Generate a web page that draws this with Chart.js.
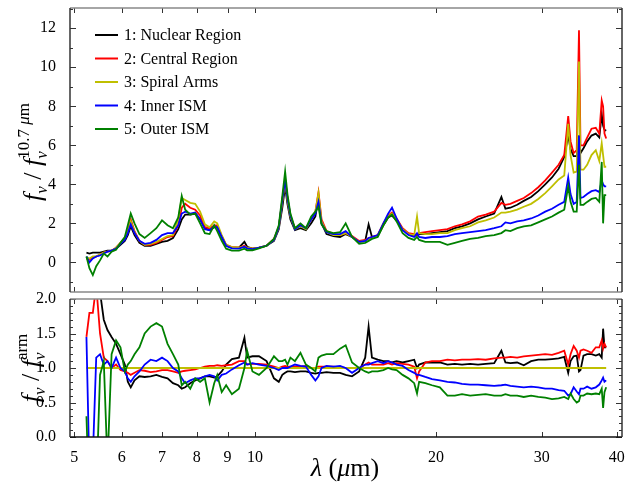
<!DOCTYPE html>
<html>
<head>
<meta charset="utf-8">
<script src="https://cdn.jsdelivr.net/npm/chart.js@4.4.1/dist/chart.umd.min.js"></script>
<style>
  html, body { margin: 0; padding: 0; background: #fff; }
  #wrap { position: relative; width: 638px; height: 484px; }
  #wrap canvas { position: absolute; left: 0; }
  #top { top: 0; }
  #bot { top: 280px; }
</style>
</head>
<body>
<div id="wrap">
  <canvas id="top" width="638" height="295"></canvas>
  <canvas id="bot" width="638" height="204"></canvas>
</div>
<script>
// wavelength grid (micron)
const wavelength = [
  5.24, 5.30, 5.37, 5.44, 5.52, 5.60, 5.68, 5.77, 5.87, 5.97,
  6.07, 6.14, 6.21, 6.30, 6.42, 6.55, 6.70, 6.85, 7.00, 7.15,
  7.30, 7.45, 7.55, 7.65, 7.80, 7.95, 8.10, 8.25, 8.40, 8.55,
  8.65, 8.80, 8.95, 9.15, 9.40, 9.60, 9.70, 9.90, 10.15, 10.45,
  10.75, 10.95, 11.10, 11.22, 11.32, 11.45, 11.65, 11.90, 12.15, 12.40,
  12.60, 12.75, 12.90, 13.15, 13.50, 13.85, 14.15, 14.50, 14.90, 15.25,
  15.45, 15.65, 16.00, 16.35, 16.65, 16.90, 17.20, 17.60, 18.00, 18.40,
  18.60, 18.75, 19.20, 19.70, 20.30, 20.90, 21.50, 22.10, 22.80, 23.50,
  24.20, 25.00, 25.70, 26.10, 26.60, 27.30, 28.00, 28.80, 29.60, 30.40,
  31.20, 32.00, 32.70, 33.20, 33.50, 33.90, 34.30, 34.60, 34.80, 35.20,
  35.70, 36.30, 36.90, 37.40, 37.75, 37.95, 38.15, 38.40
];

const seriesNames = ['1: Nuclear Region', '2: Central Region', '3: Spiral Arms', '4: Inner ISM', '5: Outer ISM'];
const seriesColors = ['#000000', '#ff0000', '#bfbf00', '#0000ff', '#008000'];

// top panel: f_nu / f_nu(10.7um)
const topNuclear = [
  0.5, 0.45, 0.5, 0.5, 0.5, 0.55, 0.6, 0.6, 0.7, 0.9,
  1.1, 1.4, 1.85, 1.4, 1.0, 0.85, 0.85, 0.95, 1.05, 1.1,
  1.25, 1.7, 2.2, 2.45, 2.45, 2.5, 2.2, 1.75, 1.65, 1.8,
  1.8, 1.3, 0.85, 0.75, 0.75, 1.05, 0.8, 0.7, 0.75, 0.85,
  1.1, 1.7, 2.8, 3.9, 3.0, 2.2, 1.65, 1.75, 1.65, 2.0,
  2.35, 3.3, 2.0, 1.45, 1.35, 1.3, 1.45, 1.3, 1.05, 1.1,
  1.95, 1.3, 1.35, 1.9, 2.3, 2.4, 2.15, 1.7, 1.45, 1.35,
  1.4, 1.45, 1.45, 1.5, 1.55, 1.6, 1.75, 1.85, 2.0, 2.2,
  2.35, 2.5, 3.35, 2.75, 2.8, 2.95, 3.15, 3.35, 3.65, 4.0,
  4.35, 4.8, 5.4, 6.5, 5.8, 5.45, 5.45, 6.5, 5.6, 5.85,
  6.2, 6.5, 6.6, 6.4, 7.6, 7.0, 6.8, 6.75
];
const topCentral = [
  0.2, 0.15, 0.25, 0.3, 0.4, 0.5, 0.55, 0.6, 0.75, 1.0,
  1.25, 1.6, 2.2, 1.6, 1.1, 0.9, 0.9, 1.0, 1.15, 1.3,
  1.35, 1.9, 2.8, 3.0, 2.8, 2.7, 2.4, 1.8, 1.75, 1.9,
  1.9, 1.35, 0.9, 0.78, 0.75, 0.85, 0.75, 0.7, 0.75, 0.85,
  1.2, 1.8, 3.2, 4.3, 3.3, 2.4, 1.75, 1.9, 1.75, 2.2,
  2.6, 3.6, 2.2, 1.6, 1.45, 1.4, 1.5, 1.35, 1.1, 1.15,
  1.25, 1.3, 1.4, 2.0, 2.4, 2.55, 2.25, 1.75, 1.5, 1.45,
  1.4, 1.5, 1.55, 1.6, 1.65, 1.7, 1.85, 1.95, 2.1, 2.35,
  2.45, 2.6, 3.05, 2.95, 3.0, 3.15, 3.3, 3.55, 3.85, 4.2,
  4.6, 5.0, 5.5, 7.5, 6.2, 5.6, 5.75, 11.9, 6.0, 6.0,
  6.4, 6.85, 6.9, 6.6, 8.3, 8.0, 6.6, 6.35
];
const topSpiral = [
  0.25, 0.2, 0.3, 0.3, 0.4, 0.5, 0.55, 0.6, 0.75, 1.0,
  1.2, 1.55, 2.1, 1.55, 1.1, 0.9, 0.95, 1.05, 1.2, 1.35,
  1.4, 2.2, 3.3, 3.2, 3.05, 3.0, 2.6, 1.95, 1.8, 2.1,
  2.0, 1.4, 0.9, 0.78, 0.75, 0.8, 0.75, 0.7, 0.75, 0.85,
  1.15, 1.8, 3.1, 4.2, 3.2, 2.35, 1.7, 1.85, 1.7, 2.2,
  2.6, 3.55, 2.1, 1.55, 1.4, 1.4, 1.5, 1.3, 1.05, 1.1,
  1.2, 1.25, 1.35, 1.95, 2.35, 2.5, 2.2, 1.7, 1.45, 1.4,
  2.35, 1.5, 1.45, 1.45, 1.5, 1.5, 1.65, 1.75, 1.85, 2.05,
  2.15, 2.3, 2.55, 2.55, 2.6, 2.7, 2.85, 3.0, 3.25, 3.55,
  3.9, 4.25, 4.45, 7.1, 5.5, 4.6, 4.65, 10.3, 4.75, 4.75,
  5.0, 5.5, 5.75, 5.2, 6.1, 5.5, 4.9, 4.9
];
const topInner = [
  0.3, 0.0, 0.2, 0.3, 0.35, 0.45, 0.55, 0.6, 0.7, 0.95,
  1.15, 1.5, 1.95, 1.5, 1.1, 0.95, 1.0, 1.15, 1.4, 1.5,
  1.5, 1.9, 2.5, 2.6, 2.5, 2.55, 2.2, 1.7, 1.65, 1.85,
  1.8, 1.3, 0.85, 0.72, 0.7, 0.8, 0.72, 0.68, 0.75, 0.85,
  1.15, 1.8, 3.2, 4.2, 3.3, 2.4, 1.7, 1.9, 1.75, 2.2,
  2.5, 3.1, 2.0, 1.55, 1.45, 1.45, 1.6, 1.3, 1.05, 1.1,
  1.25, 1.3, 1.4, 2.0, 2.5, 2.8, 2.25, 1.65, 1.4, 1.3,
  1.5, 1.3, 1.25, 1.3, 1.3, 1.35, 1.45, 1.5, 1.55, 1.6,
  1.65, 1.75, 1.85, 2.05, 2.0, 2.1, 2.15, 2.25, 2.4, 2.6,
  2.75, 2.95, 3.1, 4.35, 3.5, 3.0, 3.1, 6.5, 3.3, 3.35,
  3.5, 3.65, 3.7, 3.6, 4.2, 4.0, 3.9, 3.9
];
const topOuter = [
  0.3, -0.3, -0.65, -0.2, 0.1, 0.45, 0.3, 0.55, 0.65, 1.0,
  1.3, 1.9, 2.5, 2.0, 1.45, 1.25, 1.5, 1.75, 2.15, 1.9,
  1.75, 2.3, 3.4, 2.7, 2.45, 2.5, 2.0, 1.5, 1.45, 1.9,
  1.6, 1.1, 0.7, 0.6, 0.6, 0.7, 0.62, 0.62, 0.72, 0.85,
  1.2, 1.9, 3.4, 4.65, 3.5, 2.5, 1.75, 2.0, 1.75, 2.35,
  2.6, 2.85, 1.95, 1.6, 1.5, 1.55, 2.0, 1.3, 0.95, 1.0,
  1.1, 1.2, 1.3, 1.9, 2.3, 2.45, 2.1, 1.5, 1.25, 1.15,
  1.3, 1.15, 1.05, 1.05, 1.05, 0.9, 1.0, 1.1, 1.2, 1.25,
  1.35, 1.4, 1.5, 1.65, 1.6, 1.75, 1.85, 1.9, 2.05, 2.2,
  2.35, 2.55, 2.7, 3.9, 3.1, 2.6, 2.6, 5.0, 2.95, 2.95,
  3.1, 3.25, 3.3, 3.1, 5.15, 2.0, 3.45, 3.45
];

// bottom panel: f_nu / f_nu(arm)
const ratioNuclear = [
  2.6, 2.8, 2.5, 2.3, 2.1, 1.7, 1.55, 1.45, 1.35, 1.2,
  1.05, 0.8, 0.72, 0.82, 0.88, 0.87, 0.88, 0.9, 0.87, 0.85,
  0.78, 0.75, 0.7, 0.72, 0.78, 0.82, 0.85, 0.88, 0.88, 0.86,
  0.88, 0.95, 1.05, 1.13, 1.15, 1.44, 1.15, 1.17, 1.17, 1.1,
  0.85, 0.8, 0.9, 0.93, 0.95, 0.95, 0.94, 0.95, 0.95, 0.93,
  0.92, 0.93, 0.93, 0.94, 0.93, 0.93, 0.9, 0.88, 0.95, 1.15,
  1.6, 1.15, 1.12, 1.1, 1.1, 1.08, 1.1, 1.08, 1.1, 1.12,
  1.0, 1.05, 1.08, 1.08, 1.08, 1.05, 1.06, 1.05, 1.06, 1.05,
  1.06, 1.07, 1.25, 1.08, 1.07, 1.08, 1.04, 1.1, 1.12, 1.12,
  1.13, 1.14, 1.16, 0.93, 1.1, 1.17, 1.18, 0.95, 0.97, 1.18,
  1.2, 1.2, 1.18, 1.2, 1.15, 1.57, 1.3, 1.3
];
const ratioCentral = [
  1.45, 1.8, 1.8, 2.2, 1.5, 1.15, 1.1, 1.0, 1.05, 0.97,
  0.95, 0.93, 0.9, 0.93, 0.97, 0.96, 0.94, 0.95, 0.97, 0.97,
  0.95, 0.93, 0.95, 0.96, 0.97, 0.98, 1.0, 1.02, 1.03, 1.03,
  1.04, 1.03, 1.04, 1.05, 1.1, 1.1, 1.05, 1.06, 1.06, 1.05,
  1.02, 1.0, 1.02, 1.03, 1.02, 1.02, 1.02, 1.02, 1.03, 1.0,
  1.0, 1.02, 1.02, 1.02, 1.02, 1.01, 1.0, 1.0, 1.0, 1.05,
  1.08, 1.05, 1.05, 1.05, 1.07, 1.05, 1.07, 1.06, 1.05, 1.02,
  0.85, 0.95, 1.08, 1.1, 1.1, 1.12, 1.11, 1.12, 1.12, 1.13,
  1.12, 1.14, 1.15, 1.15, 1.16, 1.15, 1.17, 1.18, 1.19, 1.2,
  1.19, 1.22, 1.25, 1.05, 1.2, 1.32, 1.25, 1.15, 1.25, 1.27,
  1.25, 1.22, 1.3, 1.3, 1.4, 1.28, 1.35, 1.3
];
const ratioSpiralWavelength = [5.24, 38.40];
const ratioSpiral = [1.0, 1.0];
const ratioInner = [
  1.45, -0.5, -0.3, 1.15, 1.2, 1.05, 1.1, 1.0, 1.15, 1.0,
  0.95, 0.85, 0.8, 0.88, 0.95, 1.05, 1.12, 1.1, 1.15, 1.1,
  1.0, 0.95, 0.85, 0.78, 0.82, 0.85, 0.85, 0.88, 0.9, 0.88,
  0.82, 0.9, 0.92, 0.98, 1.04, 1.08, 1.05, 1.07, 1.05, 1.03,
  1.0, 0.97, 1.0, 1.0, 1.0, 1.02, 1.05, 1.03, 1.02, 0.9,
  0.82, 0.88, 1.0, 1.03, 1.02, 1.03, 1.0, 0.93, 1.0, 1.05,
  1.05, 1.07, 1.1, 1.07, 1.1, 1.08, 1.05, 1.03, 0.97, 0.93,
  0.9, 0.9, 0.87, 0.84, 0.82, 0.8, 0.79, 0.77, 0.76, 0.76,
  0.75, 0.74, 0.75, 0.76, 0.74, 0.73, 0.72, 0.73, 0.72, 0.7,
  0.7, 0.68, 0.67, 0.6, 0.62, 0.72, 0.66, 0.62, 0.7, 0.7,
  0.73, 0.7, 0.72, 0.76, 0.82, 0.86, 0.8, 0.82
];
const ratioOuter = [
  0.3, -1.0, -1.5, -0.8, 0.9, 1.1, -0.4, 1.2, 1.4, 1.3,
  0.95, 1.05, 1.1, 1.2, 1.3, 1.5, 1.6, 1.65, 1.6, 1.35,
  1.2, 1.05, 0.75, 0.8, 0.7, 0.85, 0.8, 0.85, 0.5, 0.78,
  0.9, 0.65, 0.75, 0.62, 0.7, 1.0, 1.25, 0.95, 0.9, 1.0,
  1.17, 1.1, 1.1, 1.12, 1.05, 1.15, 1.1, 1.22, 1.05, 1.0,
  0.95, 1.15, 1.18, 1.2, 1.2, 1.28, 1.33, 1.08, 1.0, 0.95,
  0.93, 0.95, 0.95, 0.97, 1.0, 0.98, 0.97, 0.9, 0.85, 0.78,
  0.63, 0.8, 0.78, 0.75, 0.72, 0.6, 0.6, 0.62, 0.6, 0.61,
  0.62, 0.6, 0.6, 0.62, 0.6, 0.6, 0.58, 0.6, 0.58, 0.57,
  0.55, 0.56, 0.58, 0.55, 0.63, 0.55, 0.5, 0.52, 0.6, 0.6,
  0.63, 0.62, 0.63, 0.62, 0.7, 0.42, 0.65, 0.72
];

const xTicks = [5, 6, 7, 8, 9, 10, 20, 30, 40];
const topTicks = [0, 2, 4, 6, 8, 10, 12];
const ratioTicks = [0, 0.5, 1.0, 1.5, 2.0];

const SERIF = '"Liberation Serif", "DejaVu Serif", serif';
const X_MIN = 4.92, X_MAX = 40.8;

function toPoints(xs, ys) {
  return xs.map((x, i) => ({ x: x, y: ys[i] }));
}

function makeDatasets(list) {
  return list.map((s, i) => ({
    label: seriesNames[i],
    data: toPoints(s.x, s.y),
    borderColor: seriesColors[i],
    backgroundColor: seriesColors[i],
    borderWidth: 1.8,
    tension: 0,
    pointRadius: 0,
    fill: false,
    order: 4 - i   // later series drawn on top
  }));
}

// draws a run of text pieces (mixed italic / sub / sup), centered at cx
function drawMath(ctx, runs, cx, cy, rotate) {
  ctx.save();
  ctx.translate(cx, cy);
  if (rotate) ctx.rotate(-Math.PI / 2);
  ctx.fillStyle = '#000';
  ctx.textBaseline = 'alphabetic';
  ctx.textAlign = 'left';
  let total = 0;
  runs.forEach(r => { ctx.font = r.font; if (r.adv !== false) total += ctx.measureText(r.t).width; });
  let x = -total / 2;
  runs.forEach(r => {
    ctx.font = r.font;
    ctx.fillText(r.t, x, r.dy || 0);
    if (r.adv !== false) x += ctx.measureText(r.t).width;
  });
  ctx.restore();
}

const framePlugin = {
  id: 'frame',
  afterDatasetsDraw(chart, args, opts) {
    const { ctx, chartArea: a } = chart;
    const xs = chart.scales.x, ys = chart.scales.y;
    ctx.save();
    ctx.strokeStyle = '#333';
    ctx.lineWidth = 1;
    ctx.beginPath();
    xTicks.forEach(v => {
      const px = Math.round(xs.getPixelForValue(v)) + 0.5;
      ctx.moveTo(px, a.top); ctx.lineTo(px, a.top + 5);
      ctx.moveTo(px, a.bottom); ctx.lineTo(px, a.bottom - 5);
    });
    const k0 = Math.ceil(ys.min / opts.minor - 1e-6), k1 = Math.floor(ys.max / opts.minor + 1e-6);
    for (let k = k0; k <= k1; k++) {
      const v = k * opts.minor;
      const isMajor = Math.abs(v / opts.major - Math.round(v / opts.major)) < 1e-6;
      const len = isMajor ? 6 : 3;
      const py = Math.round(ys.getPixelForValue(v)) + 0.5;
      ctx.moveTo(a.left, py); ctx.lineTo(a.left + len, py);
      ctx.moveTo(a.right, py); ctx.lineTo(a.right - len, py);
    }
    ctx.stroke();

    const edge = (x1, y1, x2, y2, color, w) => {
      ctx.strokeStyle = color; ctx.lineWidth = w;
      ctx.beginPath(); ctx.moveTo(x1, y1); ctx.lineTo(x2, y2); ctx.stroke();
    };
    edge(a.left, a.top, a.right, a.top, opts.topColor, 1.5);
    edge(a.left, a.bottom, a.right, a.bottom, opts.bottomColor, 1.5);
    edge(a.left, a.top, a.left, a.bottom, '#333', 1.5);
    edge(a.right, a.top, a.right, a.bottom, '#333', 1.5);
    ctx.restore();
  }
};

const BIG = 'italic 26px ' + SERIF, BIG_UP = '26px ' + SERIF;
const SMALL = 'italic 17px ' + SERIF, SMALL_UP = '17px ' + SERIF;

// top panel
new Chart(document.getElementById('top'), {
  type: 'line',
  data: {
    datasets: makeDatasets([
      { x: wavelength, y: topNuclear },
      { x: wavelength, y: topCentral },
      { x: wavelength, y: topSpiral },
      { x: wavelength, y: topInner },
      { x: wavelength, y: topOuter }
    ])
  },
  options: {
    responsive: false,
    animation: false,
    layout: { padding: { left: 0, top: 8, right: 16, bottom: 0 } },
    plugins: {
      legend: { display: false },
      tooltip: { enabled: false },
      frame: { minor: 1, major: 2, topColor: '#888', bottomColor: '#888' }
    },
    scales: {
      x: {
        type: 'logarithmic', min: X_MIN, max: X_MAX,
        ticks: { display: false },
        grid: { display: false },
        border: { display: false },
        afterFit: s => { s.height = 3; s.paddingLeft = 0; s.paddingRight = 0; }
      },
      y: {
        min: -1.52, max: 13.04,
        afterBuildTicks: s => { s.ticks = topTicks.map(v => ({ value: v })); },
        ticks: { color: '#000', padding: 6, font: { family: SERIF, size: 16 }, callback: v => String(v) },
        grid: { display: false },
        border: { display: false },
        afterFit: s => { s.width = 70; s.paddingTop = 0; s.paddingBottom = 0; }
      }
    }
  },
  plugins: [framePlugin, {
    id: 'topText',
    afterDraw(chart) {
      const ctx = chart.ctx;
      // legend
      chart.data.datasets.forEach((ds, i) => {
        const yy = 35 + i * 23.5;
        ctx.save();
        ctx.strokeStyle = ds.borderColor;
        ctx.lineWidth = 2;
        ctx.beginPath(); ctx.moveTo(95, yy); ctx.lineTo(118, yy); ctx.stroke();
        ctx.fillStyle = '#000';
        ctx.font = '16px ' + SERIF;
        ctx.textBaseline = 'middle';
        ctx.fillText(ds.label, 124, yy + 1);
        ctx.restore();
      });
      // y title
      drawMath(ctx, [
        { t: 'f', font: BIG },
        { t: 'ν', font: SMALL, dy: 6 },
        { t: ' / ', font: BIG_UP },
        { t: 'f', font: BIG },
        { t: 'ν', font: SMALL, dy: 6, adv: false },
        { t: '10.7 ', font: SMALL_UP, dy: -12 },
        { t: 'μ', font: SMALL, dy: -12 },
        { t: 'm', font: SMALL_UP, dy: -12 }
      ], 41, 152, true);
    }
  }]
});

// bottom panel
new Chart(document.getElementById('bot'), {
  type: 'line',
  data: {
    datasets: makeDatasets([
      { x: wavelength, y: ratioNuclear },
      { x: wavelength, y: ratioCentral },
      { x: ratioSpiralWavelength, y: ratioSpiral },
      { x: wavelength, y: ratioInner },
      { x: wavelength, y: ratioOuter }
    ])
  },
  options: {
    responsive: false,
    animation: false,
    layout: { padding: { left: 0, top: 19, right: 16, bottom: 0 } },
    plugins: {
      legend: { display: false },
      tooltip: { enabled: false },
      frame: { minor: 0.1, major: 0.5, topColor: '#888', bottomColor: '#111' }
    },
    scales: {
      x: {
        type: 'logarithmic', min: X_MIN, max: X_MAX,
        afterBuildTicks: s => { s.ticks = xTicks.map(v => ({ value: v })); },
        ticks: { color: '#000', padding: 3, autoSkip: false, maxRotation: 0, font: { family: SERIF, size: 16 }, callback: v => String(v) },
        grid: { display: false },
        border: { display: false },
        afterFit: s => { s.height = 47; s.paddingLeft = 0; s.paddingRight = 0; }
      },
      y: {
        min: 0, max: 2.0,
        afterBuildTicks: s => { s.ticks = ratioTicks.map(v => ({ value: v })); },
        ticks: { color: '#000', padding: 6, font: { family: SERIF, size: 16 }, callback: v => Number(v).toFixed(1) },
        grid: { display: false },
        border: { display: false },
        afterFit: s => { s.width = 70; s.paddingTop = 0; s.paddingBottom = 0; }
      }
    }
  },
  plugins: [framePlugin, {
    id: 'botText',
    afterDraw(chart) {
      const ctx = chart.ctx;
      drawMath(ctx, [
        { t: 'f', font: BIG },
        { t: 'ν', font: SMALL, dy: 6 },
        { t: ' / ', font: BIG_UP },
        { t: 'f', font: BIG },
        { t: 'ν', font: SMALL, dy: 6, adv: false },
        { t: 'arm', font: SMALL_UP, dy: -12 }
      ], 39, 88, true);
      // x title
      drawMath(ctx, [
        { t: 'λ', font: 'italic 26px ' + SERIF },
        { t: ' (', font: '26px ' + SERIF },
        { t: 'μ', font: 'italic 26px ' + SERIF },
        { t: 'm)', font: '26px ' + SERIF }
      ], 345, 196, false);
    }
  }]
});
</script>
</body>
</html>
